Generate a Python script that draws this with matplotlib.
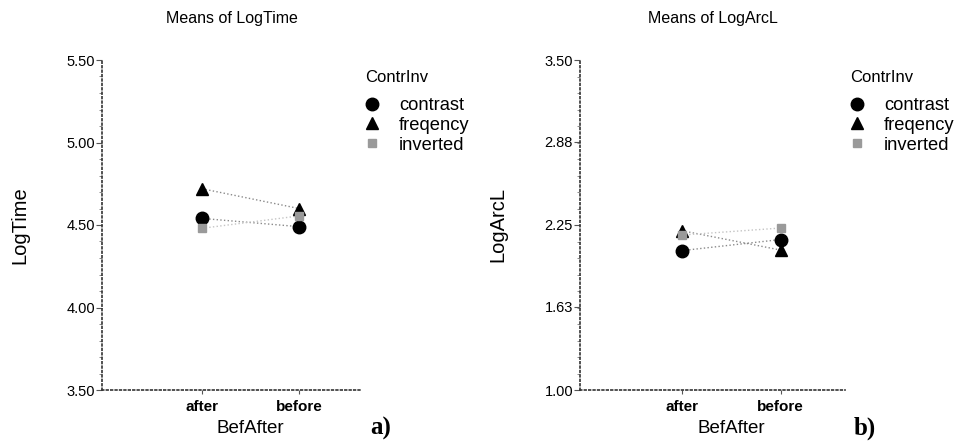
import matplotlib
matplotlib.use("Agg")
import matplotlib.pyplot as plt
from matplotlib.ticker import MultipleLocator, FixedLocator

plt.rcParams['font.family'] = ['Liberation Sans', 'DejaVu Sans']

categories = ["after", "before"]
groups = ["contrast", "freqency", "inverted"]

logtime = {
    "contrast": [4.54, 4.49],
    "freqency": [4.72, 4.60],
    "inverted": [4.48, 4.555],
}
logarcl = {
    "contrast": [2.056, 2.14],
    "freqency": [2.207, 2.06],
    "inverted": [2.174, 2.227],
}

left_ticks = [3.50, 4.00, 4.50, 5.00, 5.50]
right_ticks = [1.00, 1.63, 2.25, 2.88, 3.50]
right_ticklabels = ["1.00", "1.63", "2.25", "2.88", "3.50"]

styles = {
    "contrast": dict(marker='o', color='black', ms=9, lc='#8a8a8a'),
    "freqency": dict(marker='^', color='black', ms=8, lc='#8a8a8a'),
    "inverted": dict(marker='s', color='#9a9a9a', ms=6, lc='#c4c4c4'),
}

fig = plt.figure(figsize=(9.58, 4.45), dpi=100)
axL = fig.add_axes([102/958, 1-390/445, 260/958, 330/445])
axR = fig.add_axes([580/958, 1-390/445, 265/958, 330/445])

def draw(ax, data, ticks, ticklabels, ylim, minor, title, ylabel, tag, legx):
    xs = list(range(len(categories)))
    for g in groups:
        st = styles[g]
        ax.plot(xs, data[g], linestyle=':', color=st['lc'], lw=1.0, zorder=2)
        ax.plot(xs, data[g], linestyle='none', marker=st['marker'], color=st['color'],
                ms=st['ms'], zorder=3, label=g)
    ax.set_xlim(-1.03, 1.65)
    ax.set_ylim(*ylim)
    ax.set_xticks(xs)
    ax.set_xticklabels(categories, fontsize=11, fontweight='bold')
    ax.yaxis.set_major_locator(FixedLocator(ticks))
    ax.set_yticklabels(ticklabels, fontsize=10.5)
    ax.yaxis.set_minor_locator(MultipleLocator(minor))
    ax.tick_params(axis='y', which='major', length=4, width=0.8, color='#555555', pad=1)
    ax.tick_params(axis='y', which='minor', length=2, width=0.6, color='#777777')
    ax.tick_params(axis='x', which='major', length=3, width=0.8, color='#555555', pad=4)
    for s in ['top', 'right']:
        ax.spines[s].set_visible(False)
    for s in ['left', 'bottom']:
        ax.spines[s].set_linestyle(':')
        ax.spines[s].set_color('#333333')
        ax.spines[s].set_linewidth(1.2)
    ax.set_title(title, fontsize=11.5, pad=27)
    ax.set_ylabel(ylabel, fontsize=14.5, labelpad=27)
    ax.set_xlabel("BefAfter", fontsize=13.5, labelpad=3)
    ax.xaxis.set_label_coords(0.57, -0.09)
    # legend title placed as text, entries below it
    ax.text(legx, (390 - 78) / 330, "ContrInv", transform=ax.transAxes,
            fontsize=12, ha='left', va='center')
    leg = ax.legend(loc='upper left', bbox_to_anchor=(legx, (390 - 97) / 330),
                    frameon=False, fontsize=13.2,
                    handletextpad=1.05, labelspacing=0.15, borderaxespad=0,
                    borderpad=0, handlelength=0.8)
    fig.text(ax.get_position().x1 + 0.009, 1-428/445, tag, fontsize=18, fontweight='bold',
             family='Liberation Serif', va='center', ha='left')

draw(axL, logtime, left_ticks, ["%.2f" % t for t in left_ticks], (3.5, 5.5), 0.1,
     "Means of LogTime", "LogTime", "a)", 1.012)
draw(axR, logarcl, right_ticks, right_ticklabels, (1.0, 3.5), 0.125,
     "Means of LogArcL", "LogArcL", "b)", 1.019)

fig.savefig("out.png", dpi=100)
